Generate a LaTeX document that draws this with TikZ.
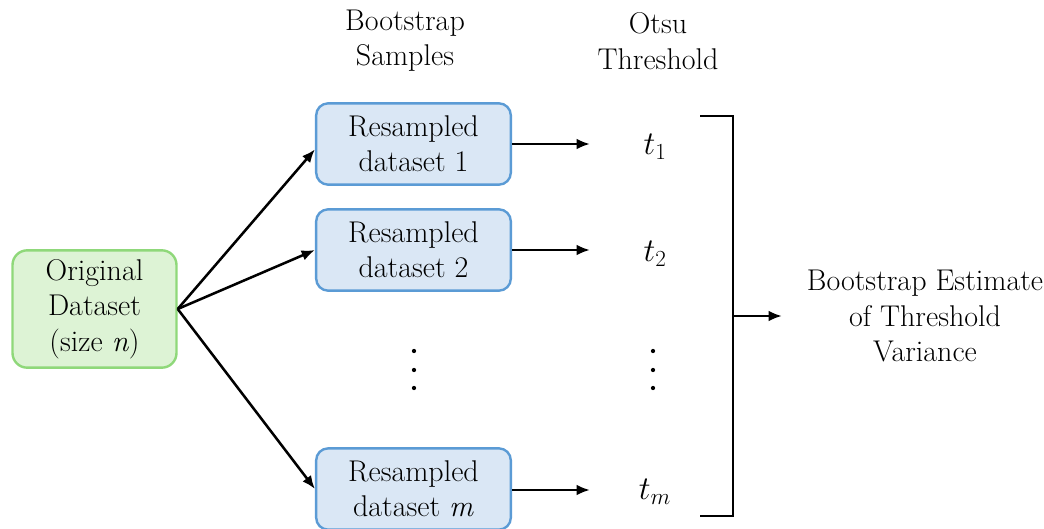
\documentclass[tikz,border=0pt]{standalone}
\usetikzlibrary{arrows.meta}
\definecolor{greenfill}{HTML}{DDF3D5}
\definecolor{greenline}{HTML}{8FD87A}
\definecolor{bluefill}{HTML}{DAE7F5}
\definecolor{blueline}{HTML}{5B9BD5}
\tikzset{
  txt/.style={font=\fontsize{22.5}{26.5}\selectfont, align=center, inner sep=0pt},
  origbox/.style={txt, draw=greenline, fill=greenfill, line width=1.8pt, rounded corners=11pt,
    minimum width=123pt, minimum height=88pt},
  sampbox/.style={txt, draw=blueline, fill=bluefill, line width=1.8pt, rounded corners=9pt,
    minimum width=146pt, minimum height=61pt},
  arr/.style={-{Latex[length=10pt,width=8pt]}, line width=1.9pt},
  bracket/.style={line width=2pt},
  dot/.style={circle, fill=black, inner sep=0pt, minimum size=3.2pt}
}
\begin{document}
\begin{tikzpicture}[x=0.75pt, y=-0.75pt]
\useasboundingbox (0,0) rectangle (1044,528);

% column headings
\node[txt] (hsamp) at (405,41) {Bootstrap\\Samples};
\node[txt] (hthr) at (658,41) {Otsu\\Threshold};

% source data
\node[origbox] (orig) at (94.5,309) {Original\\Dataset\\(size \textit{n})};

% resampled datasets
\node[sampbox] (s1) at (413.5,144) {Resampled\\dataset 1};
\node[sampbox] (s2) at (413.5,250) {Resampled\\dataset 2};
\node[sampbox] (sm) at (413.5,489) {Resampled\\dataset \textit{m}};

% thresholds
\node[txt, font=\fontsize{24}{28}\selectfont] (t1) at (655,147) {$t_1$};
\node[txt, font=\fontsize{24}{28}\selectfont] (t2) at (655,254) {$t_2$};
\node[txt, font=\fontsize{24}{28}\selectfont] (tm) at (655,492) {$t_m$};

% vertical ellipses
\foreach \y [count=\i] in {351,370,388} {
  \node[dot] (da\i) at (414,\y) {};
  \node[dot] (db\i) at (653,\y) {};
}

% result
\node[txt] (est) at (925,316) {Bootstrap Estimate\\of Threshold\\Variance};

% connectors
\coordinate (src) at (orig.east);
\draw[arr] (src) -- ([yshift=-4pt]s1.west);
\draw[arr] (src) -- (s2.west);
\draw[arr] (src) -- (sm.west);

\coordinate (e1) at (590,144);
\coordinate (e2) at (590,250);
\coordinate (em) at (590,490);
\draw[arr] (s1.east) -- (e1);
\draw[arr] (s2.east) -- (e2);
\draw[arr] (sm.east |- em) -- (em);

% bracket collecting the thresholds
\coordinate (btl) at (700,116);
\coordinate (btr) at (733,116);
\coordinate (bbr) at (733,516);
\coordinate (bbl) at (700,516);
\draw[bracket] (btl) -- (btr) -- (bbr) -- (bbl);
\coordinate (bmid) at (733,316);
\coordinate (eend) at (782,316);
\draw[arr] (bmid) -- (eend);
\end{tikzpicture}
\end{document}
